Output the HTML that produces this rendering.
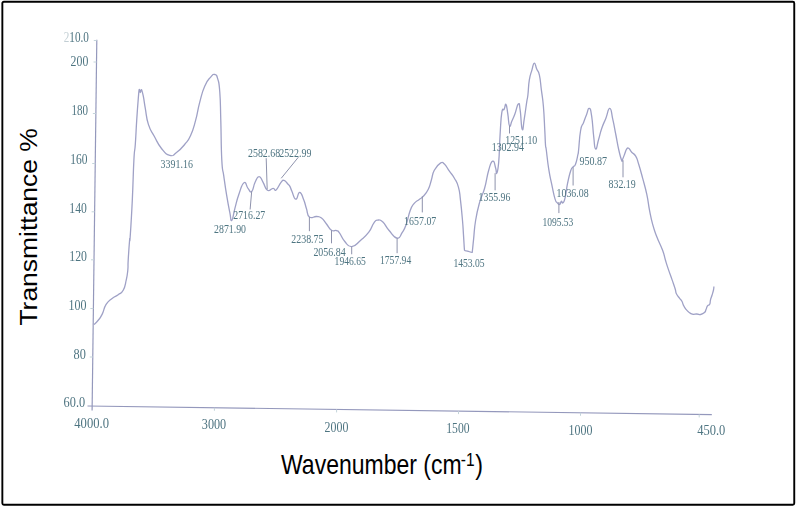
<!DOCTYPE html>
<html><head><meta charset="utf-8"><style>
html,body{margin:0;padding:0;background:#fff;}
body{width:796px;height:507px;overflow:hidden;position:relative;}
svg{position:absolute;left:0;top:0;display:block;}
</style></head><body>
<svg width="796" height="507" viewBox="0 0 796 507">
<defs><filter id="bl" x="-5%" y="-5%" width="110%" height="110%"><feGaussianBlur stdDeviation="0.45"/></filter><filter id="bt" x="-5%" y="-5%" width="110%" height="110%"><feGaussianBlur stdDeviation="0.45"/></filter></defs>
<rect x="0" y="0" width="796" height="507" fill="#fff"/>
<rect x="2.35" y="1.8" width="791.9" height="502.9" rx="1.5" ry="1.5" fill="none" stroke="#000" stroke-width="1.9"/>

<g stroke="#9498bc" stroke-width="1.2" fill="none" filter="url(#bt)">
<path d="M96.8 39.7 L92.1 410.6"/>
<path d="M87.5 406 L711.8 414.6"/>
<path d="M93.79 40.5 L96.79 40.5" stroke="#c4d4da" stroke-width="1"/>
<path d="M93.52 62 L96.52 62" stroke="#c4d4da" stroke-width="1"/>
<path d="M92.86 113.5 L95.86 113.5" stroke="#c4d4da" stroke-width="1"/>
<path d="M92.23 163.5 L95.23 163.5" stroke="#c4d4da" stroke-width="1"/>
<path d="M91.62 211.8 L94.62 211.8" stroke="#c4d4da" stroke-width="1"/>
<path d="M91.01 259.8 L94.01 259.8" stroke="#c4d4da" stroke-width="1"/>
<path d="M90.39 308.5 L93.39 308.5" stroke="#c4d4da" stroke-width="1"/>
<path d="M89.78 357 L92.78 357" stroke="#c4d4da" stroke-width="1"/>
<path d="M214.4 407.75 L214.4 410.75" stroke="#c4d4da" stroke-width="1"/>
<path d="M336.6 409.43 L336.6 412.43" stroke="#c4d4da" stroke-width="1"/>
<path d="M458.5 411.11 L458.5 414.11" stroke="#c4d4da" stroke-width="1"/>
<path d="M580.5 412.79 L580.5 415.79" stroke="#c4d4da" stroke-width="1"/>
<path d="M699.2 414.43 L699.2 417.43" stroke="#c4d4da" stroke-width="1"/>
</g>
<path d="M94 324.5 C95.07 323.43 95.84 323.19 98 320.5 C100.16 317.81 99.94 318.69 102.1 314.4 C104.26 310.11 103.43 308.67 106.1 304.4 C108.77 300.13 108.87 300.99 112.1 298.4 C115.33 295.81 115.24 296.86 118.2 294.7 C121.16 292.54 121.07 294.17 123.2 290.3 C125.33 286.43 124.97 285.56 126.2 280.2 C127.43 274.84 127.27 275.56 127.8 270.2 C128.33 264.84 127.72 268.15 128.2 260.1 C128.68 252.05 129.07 246.29 129.6 240 C130.13 233.71 129.48 247.11 130.2 236.5 C130.92 225.89 131.31 220.6 132.3 200.2 C133.29 179.8 133.1 174.85 133.9 160 C134.7 145.15 134.55 155.06 135.3 144.5 C136.05 133.94 135.9 132.75 136.7 120.4 C137.5 108.05 137.63 106.47 138.3 98.2 C138.97 89.93 139 89.97 139.2 89.4 C139.4 88.83 140.15 92.49 140.3 92.5 C140.45 92.51 141.2 89.23 141.5 89.6 C141.8 89.97 142.29 91.21 143.3 96.2 C144.31 101.19 143.94 100.78 145.3 108.3 C146.66 115.82 145.97 116.88 148.4 124.4 C150.83 131.92 150.91 130.07 154.4 136.5 C157.89 142.93 157.39 143.46 161.5 148.5 C165.61 153.54 165.8 154.31 169.8 155.4 C173.8 156.49 172.55 155.51 176.5 152.6 C180.45 149.69 180.84 149.06 184.6 144.5 C188.36 139.94 187.67 141.93 190.6 135.5 C193.53 129.07 193.17 129.25 195.6 120.4 C198.03 111.55 197.27 111.42 199.7 102.3 C202.13 93.18 201.77 92.92 204.7 86.2 C207.63 79.48 208.03 80.22 210.7 77.1 C213.37 73.98 212.81 73.97 214.7 74.5 C216.59 75.03 216.44 74.38 217.8 79.1 C219.16 83.82 219 81.19 219.8 92.2 C220.6 103.21 220.27 102.32 220.8 120.4 C221.33 138.48 221 145.15 221.8 160 C222.6 174.85 222.47 166.45 223.8 176.1 C225.13 185.75 225.2 186.55 226.8 196.2 C228.4 205.85 228.47 205.85 229.8 212.3 C231.13 218.75 230.44 221.47 231.8 220.4 C233.16 219.33 233.01 215.29 234.9 208.3 C236.79 201.31 236.47 201.03 238.9 194.2 C241.33 187.37 241.57 184.25 244 182.7 C246.43 181.15 245.95 186.08 248 188.4 C250.05 190.72 249.81 193.03 251.7 191.4 C253.59 189.77 253.13 186.22 255.1 182.3 C257.07 178.38 256.97 176.7 259.1 176.7 C261.23 176.7 260.89 178.67 263.1 182.3 C265.31 185.93 264.73 188.7 267.4 190.3 C270.07 191.9 270.78 188.41 273.1 188.3 C275.42 188.19 273.99 191.47 276.1 189.9 C278.21 188.33 278.89 184.93 281 182.4 C283.11 179.87 282.19 179.97 284 180.4 C285.81 180.83 286.23 182.4 287.8 184 C289.37 185.6 288.81 184.45 289.9 186.4 C290.99 188.35 290.33 187.89 291.9 191.3 C293.47 194.71 293.72 198.93 295.8 199.2 C297.88 199.47 297.59 192.14 299.7 192.3 C301.81 192.46 301.91 195.48 303.7 199.8 C305.49 204.12 304.88 203.91 306.4 208.5 C307.92 213.09 306.71 214.87 309.4 217 C312.09 219.13 313.27 216.23 316.5 216.5 C319.73 216.77 318.83 216 321.5 218 C324.17 220 323.83 220.75 326.5 224 C329.17 227.25 328.81 228.44 331.5 230.2 C334.19 231.96 334.44 229.8 336.6 230.6 C338.76 231.4 337.47 230.37 339.6 233.2 C341.73 236.03 341.37 237.6 344.6 241.2 C347.83 244.8 347.41 246.97 351.7 246.7 C355.99 246.43 356.14 244.07 360.7 240.2 C365.26 236.33 365.31 236.76 368.8 232.2 C372.29 227.64 371.4 226.33 373.8 223.1 C376.2 219.87 375.37 220.37 377.8 220.1 C380.23 219.83 379.94 219.41 382.9 222.1 C385.86 224.79 385.11 225.91 388.9 230.2 C392.69 234.49 393.58 237.56 397.1 238.2 C400.62 238.84 399.67 236.25 402.1 232.6 C404.53 228.95 404.04 230.42 406.2 224.5 C408.36 218.58 408.07 216.03 410.2 210.4 C412.33 204.77 411.8 206.33 414.2 203.4 C416.6 200.47 416.77 201.29 419.2 199.4 C421.63 197.51 420.87 198.99 423.3 196.3 C425.73 193.61 426.17 193.59 428.3 189.3 C430.43 185.01 429.7 185.29 431.3 180.2 C432.9 175.11 431.87 174.76 434.3 170.2 C436.73 165.64 437.71 164.73 440.4 163.1 C443.09 161.47 442 161.94 444.4 164.1 C446.8 166.26 446.73 167.44 449.4 171.2 C452.07 174.96 451.97 173.91 454.4 178.2 C456.83 182.49 456.87 181.38 458.5 187.3 C460.13 193.22 459.43 191.55 460.5 200.4 C461.57 209.25 461.7 211.25 462.5 220.5 C463.3 229.75 462.97 227.18 463.5 235.1 C464.03 243.02 464.33 249.66 464.5 250.2 C464.67 250.74 467.73 251.18 468.5 251.4 C469.27 251.62 472.03 252.81 472.2 252.4 C472.37 251.99 472.69 247.61 473.6 239.1 C474.51 230.59 474 230.29 475.6 220.5 C477.2 210.71 477.2 210.99 479.6 202.4 C482 193.81 482.17 196.89 484.6 188.3 C487.03 179.71 486.54 177.45 488.7 170.2 C490.86 162.95 490.83 161.63 492.7 161.1 C494.57 160.57 494.63 164.97 495.7 168.2 C496.77 171.43 495.9 174.83 496.7 173.2 C497.5 171.57 497.79 172.42 498.7 162.1 C499.61 151.78 499.27 147.67 500.1 134.5 C500.93 121.33 500.71 119.45 501.8 112.7 C502.89 105.95 503.08 111.39 504.2 109.2 C505.32 107.01 505.04 103.25 506 104.5 C506.96 105.75 506.87 108.22 507.8 113.9 C508.73 119.58 508.41 123.91 509.5 125.8 C510.59 127.69 510.46 124.17 511.9 121 C513.34 117.83 513.17 118.46 514.9 113.9 C516.63 109.34 516.99 104.83 518.4 103.9 C519.81 102.97 519.19 103.63 520.2 110.4 C521.21 117.17 521.11 127.11 522.2 129.3 C523.29 131.49 523.1 125.85 524.3 118.6 C525.5 111.35 525.74 108.39 526.7 102.1 C527.66 95.81 527.21 100.84 527.9 95 C528.59 89.16 528.23 86.84 529.3 80.2 C530.37 73.56 530.57 74.66 531.9 70.1 C533.23 65.54 533.02 63.37 534.3 63.1 C535.58 62.83 535.34 65.87 536.7 69.1 C538.06 72.33 538.15 69.57 539.4 75.2 C540.65 80.83 540.33 81.91 541.4 90.2 C542.47 98.49 542.49 95.55 543.4 106.3 C544.31 117.05 544.24 120.18 544.8 130.5 C545.36 140.82 545.1 139.8 545.5 145 C545.9 150.2 545.45 143.63 546.3 150 C547.15 156.37 547.23 159.65 548.7 168.9 C550.17 178.15 550.12 176.7 551.8 184.7 C553.48 192.7 553.53 194.07 555 198.9 C556.47 203.73 556.05 201.33 557.3 202.8 C558.55 204.27 558.63 204.8 559.7 204.4 C560.77 204 560.45 201.73 561.3 201.3 C562.15 200.87 561.86 203.87 562.9 202.8 C563.94 201.73 563.95 202.55 565.2 197.3 C566.45 192.05 566.11 190.25 567.6 183.1 C569.09 175.95 569.33 174.79 570.8 170.5 C572.27 166.21 571.85 168.68 573.1 167 C574.35 165.32 574.22 167.48 575.5 164.2 C576.78 160.92 577.07 158.49 577.9 154.7 C578.73 150.91 577.88 156.45 578.6 150 C579.32 143.55 579.27 137.86 580.6 130.5 C581.93 123.14 582 126.69 583.6 122.4 C585.2 118.11 585.08 118.13 586.6 114.4 C588.12 110.67 587.94 107.87 589.3 108.4 C590.66 108.93 590.53 108.91 591.7 116.4 C592.87 123.89 592.66 127.83 593.7 136.5 C594.74 145.17 594.29 148.1 595.6 148.9 C596.91 149.7 596.97 144.94 598.6 139.5 C600.23 134.06 599.78 134.13 601.7 128.5 C603.62 122.87 603.64 123.76 605.8 118.4 C607.96 113.04 607.93 108.13 609.8 108.4 C611.67 108.67 611.2 112.44 612.8 119.4 C614.4 126.36 614.2 126.34 615.8 134.5 C617.4 142.66 617.25 143.15 618.8 150 C620.35 156.85 620.59 157.75 621.6 160.2 C622.61 162.65 621.8 160.8 622.6 159.2 C623.4 157.6 623.53 156.87 624.6 154.2 C625.67 151.53 625.51 150.8 626.6 149.2 C627.69 147.6 627.34 147.4 628.7 148.2 C630.06 149 629.83 150.07 631.7 152.2 C633.57 154.33 633.83 152.97 635.7 156.2 C637.57 159.43 636.83 158.38 638.7 164.3 C640.57 170.22 640.54 170.37 642.7 178.4 C644.86 186.43 644.99 185.95 646.8 194.4 C648.61 202.85 647.95 202.18 649.5 210.1 C651.05 218.02 650.71 217.14 652.6 224.1 C654.49 231.06 653.93 229.21 656.6 236.2 C659.27 243.19 660.25 243.95 662.6 250.3 C664.95 256.65 663.88 254.99 665.4 260 C666.92 265.01 666.49 263.74 668.3 269.1 C670.11 274.46 670.36 274.79 672.2 280.1 C674.04 285.41 674.08 285.35 675.2 289 C676.32 292.65 675.23 291.32 676.4 293.8 C677.57 296.28 678.13 296.3 679.6 298.3 C681.07 300.3 680.89 299.49 681.9 301.3 C682.91 303.11 682.41 303.1 683.4 305.1 C684.39 307.1 684.21 306.99 685.6 308.8 C686.99 310.61 686.79 310.49 688.6 311.9 C690.41 313.31 690.19 313.54 692.4 314.1 C694.61 314.66 694.69 313.89 696.9 314 C699.11 314.11 698.67 314.87 700.7 314.5 C702.73 314.13 703.09 313.91 704.5 312.6 C705.91 311.29 705.2 311.41 706 309.6 C706.8 307.79 706.51 307.21 707.5 305.8 C708.49 304.39 708.9 305.9 709.7 304.3 C710.5 302.7 709.89 302.2 710.5 299.8 C711.11 297.4 711.2 297.91 712 295.3 C712.8 292.69 712.99 292.35 713.5 290 C714.01 287.65 713.79 287.43 713.9 286.5" fill="none" stroke="#9fa1c6" stroke-width="1.3" stroke-linejoin="round" filter="url(#bl)"/>
<g stroke="#8e92ac" stroke-width="1" filter="url(#bt)">
<path d="M251.7 191.4 L250.1 209.5"/>
<path d="M266.2 158.2 L267.2 189.4"/>
<path d="M281.2 178.3 L298.4 157.2"/>
<path d="M309.4 217.1 L309.4 231.2"/>
<path d="M331.5 230.2 L331.5 243.3"/>
<path d="M351.7 246.7 L351.7 254.3"/>
<path d="M397.1 238.2 L397.1 253.2"/>
<path d="M422.3 196.3 L422.3 212.4"/>
<path d="M495.1 173.2 L495.1 190.3"/>
<path d="M509.5 125.8 L509.5 133.5"/>
<path d="M558.9 202 L558.9 213.1"/>
<path d="M573.1 167.4 L573.1 185.5"/>
<path d="M623 160.2 L623 177.3"/>
</g>
<g font-family="Liberation Serif, serif" fill="#4e7481" font-size="13" filter="url(#bt)">
<text x="160.6" y="168.1" textLength="32.3" lengthAdjust="spacingAndGlyphs">3391.16</text>
<text x="214.1" y="233.4" textLength="31.9" lengthAdjust="spacingAndGlyphs">2871.90</text>
<text x="233.3" y="218.5" textLength="31.9" lengthAdjust="spacingAndGlyphs">2716.27</text>
<text x="248" y="157.2" textLength="32.2" lengthAdjust="spacingAndGlyphs">2582.68</text>
<text x="279.2" y="157.2" textLength="32.2" lengthAdjust="spacingAndGlyphs">2522.99</text>
<text x="291.3" y="243.3" textLength="32.2" lengthAdjust="spacingAndGlyphs">2238.75</text>
<text x="313.4" y="256.3" textLength="32.2" lengthAdjust="spacingAndGlyphs">2056.84</text>
<text x="334.6" y="265.4" textLength="31.2" lengthAdjust="spacingAndGlyphs">1946.65</text>
<text x="380" y="264.3" textLength="31.2" lengthAdjust="spacingAndGlyphs">1757.94</text>
<text x="404.1" y="224.5" textLength="32.2" lengthAdjust="spacingAndGlyphs">1657.07</text>
<text x="453.4" y="266.9" textLength="31.2" lengthAdjust="spacingAndGlyphs">1453.05</text>
<text x="478.6" y="201.4" textLength="31.8" lengthAdjust="spacingAndGlyphs">1355.96</text>
<text x="491.7" y="151.3" textLength="32.2" lengthAdjust="spacingAndGlyphs">1302.94</text>
<text x="505.2" y="143.6" textLength="32.1" lengthAdjust="spacingAndGlyphs">1251.10</text>
<text x="542.4" y="225.7" textLength="31" lengthAdjust="spacingAndGlyphs">1095.53</text>
<text x="556.6" y="196.5" textLength="32" lengthAdjust="spacingAndGlyphs">1036.08</text>
<text x="579.4" y="164.5" textLength="27.6" lengthAdjust="spacingAndGlyphs">950.87</text>
<text x="608.5" y="188.4" textLength="27.2" lengthAdjust="spacingAndGlyphs">832.19</text>
</g>
<g font-family="Liberation Serif, serif" fill="#4e7481" font-size="15" filter="url(#bt)">
<text x="63.7" y="41.7" textLength="25.2" lengthAdjust="spacingAndGlyphs"><tspan fill-opacity="0.35">2</tspan>10.0</text>
<text x="70.6" y="65.8" textLength="17.7" lengthAdjust="spacingAndGlyphs">200</text>
<text x="71.5" y="114.7" textLength="16.5" lengthAdjust="spacingAndGlyphs">180</text>
<text x="70.3" y="164.2" textLength="17.2" lengthAdjust="spacingAndGlyphs">160</text>
<text x="69.3" y="212.8" textLength="17.5" lengthAdjust="spacingAndGlyphs">140</text>
<text x="69.3" y="260.9" textLength="17.7" lengthAdjust="spacingAndGlyphs">120</text>
<text x="68.6" y="309.7" textLength="18" lengthAdjust="spacingAndGlyphs">100</text>
<text x="73.5" y="358.5" textLength="12.3" lengthAdjust="spacingAndGlyphs">80</text>
<text x="63.6" y="407.1" textLength="21.5" lengthAdjust="spacingAndGlyphs">60.0</text>
<text x="74.3" y="427.6" textLength="34.7" lengthAdjust="spacingAndGlyphs">4000.0</text>
<text x="201.8" y="429.4" textLength="24.4" lengthAdjust="spacingAndGlyphs">3000</text>
<text x="324.6" y="431.7" textLength="23.8" lengthAdjust="spacingAndGlyphs">2000</text>
<text x="446.3" y="432.8" textLength="23.3" lengthAdjust="spacingAndGlyphs">1500</text>
<text x="568.5" y="435.1" textLength="23.9" lengthAdjust="spacingAndGlyphs">1000</text>
<text x="697.2" y="434.7" textLength="28.1" lengthAdjust="spacingAndGlyphs">450.0</text>
</g>
<text transform="translate(36.6 325.6) scale(0.862 1) rotate(-90)" x="0" y="0" font-family="Liberation Sans, sans-serif" font-size="27" fill="#000" textLength="197.5" lengthAdjust="spacingAndGlyphs">Transmittance %</text>
<g font-family="Liberation Sans, sans-serif" fill="#000"><text transform="translate(281 474.3) scale(0.8525 1)" font-size="27">Wavenumber (cm</text><text transform="translate(460.8 466.3) scale(0.862 1)" font-size="18">-1</text><text transform="translate(475.3 474.3) scale(0.862 1)" font-size="27">)</text></g>
</svg>
</body></html>
